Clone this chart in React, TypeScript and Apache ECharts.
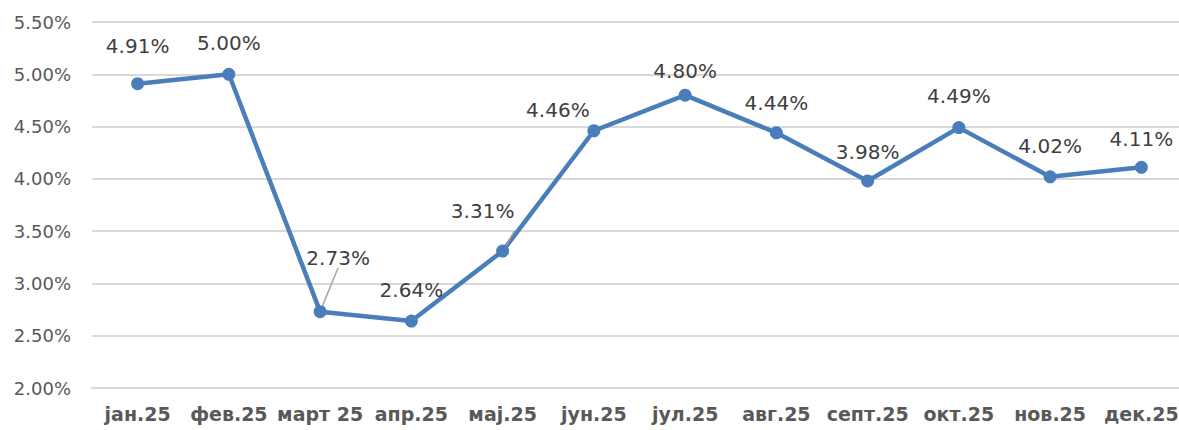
import React, { useEffect, useRef } from "react";
import * as echarts from "echarts";

const categories = ["јан.25", "фев.25", "март 25", "апр.25", "мај.25", "јун.25", "јул.25", "авг.25", "септ.25", "окт.25", "нов.25", "дек.25"];
const values = [4.91, 5.0, 2.73, 2.64, 3.31, 4.46, 4.8, 4.44, 3.98, 4.49, 4.02, 4.11];
const yTicks = { min: 2.0, max: 5.5, interval: 0.5 };

// label placement (layout, not data)
const labelOffsets: [number, number][] = [
  [0, -38], [0, -31], [18, -54], [0, -31], [-20, -40], [-36, -21],
  [0, -24], [0, -30], [0, -29], [0, -32], [0, -31], [0, -28],
];
const leaderLines = [false, false, true, false, true, false, false, false, false, false, false, false];

export default function App() {
  const ref = useRef<HTMLDivElement>(null);
  useEffect(() => {
    const chart = echarts.init(ref.current!, null, { renderer: "svg" });
    const font = "'DejaVu Sans', Verdana, sans-serif";
    chart.setOption({
      animation: false,
      backgroundColor: "#ffffff",
      grid: { left: 92, right: 0, top: 22, bottom: 42 },
      xAxis: {
        type: "category",
        data: categories,
        boundaryGap: true,
        axisLine: { show: true, lineStyle: { color: "#d9d9d9", width: 2 } },
        axisTick: { show: false },
        axisLabel: {
          interval: 0,
          color: "#595959",
          fontFamily: font,
          fontWeight: "bold",
          fontSize: 19,
          margin: 16,
        },
      },
      yAxis: {
        type: "value",
        min: yTicks.min,
        max: yTicks.max,
        interval: yTicks.interval,
        axisLine: { show: false },
        axisTick: { show: false },
        splitLine: { lineStyle: { color: "#d9d9d9", width: 2 } },
        axisLabel: {
          color: "#595959",
          fontFamily: font,
          fontSize: 18,
          margin: 21,
          formatter: (v: number) => v.toFixed(2) + "%",
        },
      },
      series: [
        {
          type: "line",
          data: values.map((v, i) => ({
            value: v,
            label: { offset: labelOffsets[i] },
            labelLine: { show: leaderLines[i] },
          })),
          symbol: "circle",
          symbolSize: 13,
          lineStyle: { color: "#4a7ebb", width: 4.5 },
          itemStyle: { color: "#4a7ebb" },
          label: {
            show: true,
            position: "inside",
            color: "#404040",
            fontFamily: font,
            fontSize: 20,
            formatter: (p: any) => p.value.toFixed(2) + "%",
          },
          labelLine: { show: false, lineStyle: { color: "#a6a6a6", width: 1.5 } },
        },
      ],
    });
    return () => chart.dispose();
  }, []);
  return (
    <div style={{ position: "fixed", left: 0, top: 0, width: 1179, height: 430, overflow: "hidden" }}>
      <div ref={ref} style={{ width: 1187, height: 430 }} />
    </div>
  );
}
